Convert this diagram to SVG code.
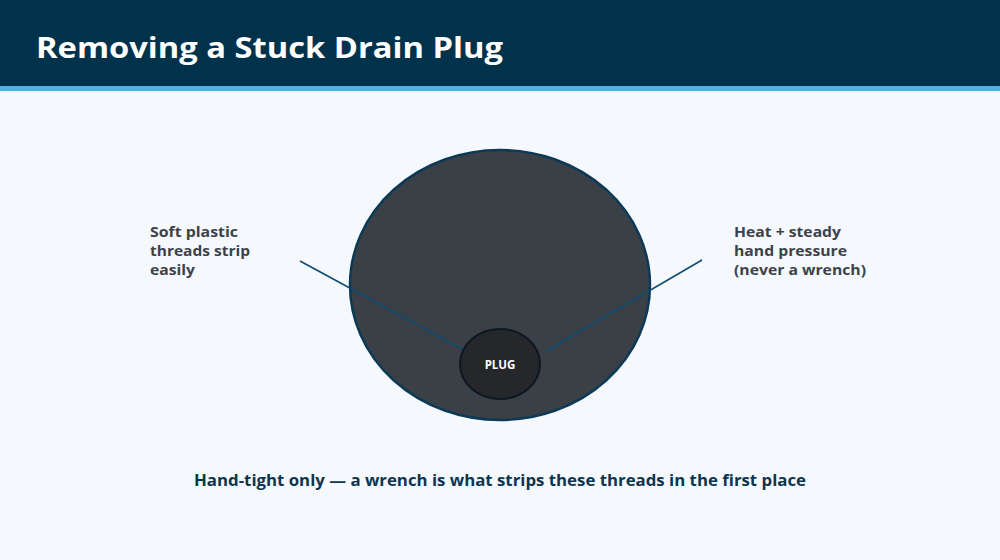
<svg xmlns="http://www.w3.org/2000/svg" width="1000" height="560" viewBox="0 0 1000 560">
<style>
.lbl{font-family:"Open Sans","Liberation Sans",sans-serif;font-weight:700;font-size:15px;fill:#3d4249}
.conn{stroke:#0e4a70;stroke-width:1.5;fill:none}
</style>
<rect width="1000" height="560" fill="#f5f9fd"/>
<g id="header">
<rect x="0" y="0" width="1000" height="86" fill="#01324c"/>
<rect x="0" y="86" width="1000" height="5" fill="#4bb4e3"/>
<text x="36" y="58" font-family="Open Sans, Liberation Sans, sans-serif" font-weight="700" font-size="28" fill="#ffffff" textLength="467" lengthAdjust="spacingAndGlyphs">Removing a Stuck Drain Plug</text>
</g>
<g id="drain">
<ellipse cx="500" cy="285" rx="150" ry="135" fill="#3b4046" stroke="#0c3a56" stroke-width="2.5"/>
</g>
<g id="connectors">
<line class="conn" x1="300" y1="261" x2="464" y2="350"/>
<line class="conn" x1="702" y1="260" x2="546" y2="351"/>
</g>
<g id="plug">
<ellipse cx="500" cy="364" rx="40" ry="35" fill="#26272b" stroke="#0a1822" stroke-width="2"/>
<text x="500" y="369" text-anchor="middle" font-family="Open Sans, Liberation Sans, sans-serif" font-weight="700" font-size="11.5" fill="#ffffff">PLUG</text>
</g>
<g id="label-left">
<text class="lbl" x="150" y="237" textLength="88" lengthAdjust="spacingAndGlyphs">Soft plastic</text>
<text class="lbl" x="150" y="256" textLength="100" lengthAdjust="spacingAndGlyphs">threads strip</text>
<text class="lbl" x="150" y="275" textLength="45" lengthAdjust="spacingAndGlyphs">easily</text>
</g>
<g id="label-right">
<text class="lbl" x="734" y="237" textLength="107" lengthAdjust="spacingAndGlyphs">Heat + steady</text>
<text class="lbl" x="734" y="256" textLength="113" lengthAdjust="spacingAndGlyphs">hand pressure</text>
<text class="lbl" x="734" y="275" textLength="132" lengthAdjust="spacingAndGlyphs">(never a wrench)</text>
</g>
<g id="footer">
<text x="500" y="486" text-anchor="middle" font-family="Open Sans, Liberation Sans, sans-serif" font-weight="700" font-size="16" fill="#0d3550" textLength="612" lengthAdjust="spacingAndGlyphs">Hand-tight only — a wrench is what strips these threads in the first place</text>
</g>
</svg>
